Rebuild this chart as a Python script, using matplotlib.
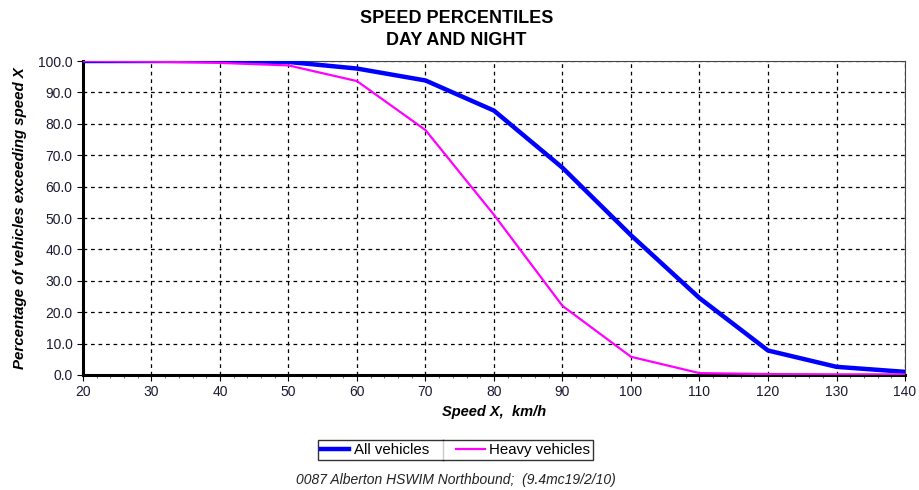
import matplotlib
matplotlib.use("Agg")
import matplotlib.pyplot as plt
from matplotlib.ticker import MultipleLocator
from matplotlib.lines import Line2D

speeds = [20, 30, 40, 50, 60, 70, 80, 90, 100, 110, 120, 130, 140]
all_vehicles = [100.0, 100.0, 100.0, 99.7, 97.6, 93.8, 84.2, 66.0, 44.5, 24.5, 7.8, 2.6, 1.0]
heavy_vehicles = [100.0, 99.8, 99.4, 98.6, 93.6, 78.0, 51.0, 22.0, 5.8, 0.6, 0.3, 0.2, 0.2]

x_ticks = list(range(20, 141, 10))
y_ticks = [i * 10 for i in range(11)]

plt.rcParams['font.family'] = ['Liberation Sans', 'DejaVu Sans']

fig = plt.figure(figsize=(9.2, 4.9), dpi=100)
ax = fig.add_axes([0.0902, 0.2347, 0.8935, 0.6408])

ax.plot(speeds, all_vehicles, color='#0000ff', lw=3.2, label='All vehicles', zorder=3, solid_joinstyle='round')
ax.plot(speeds, heavy_vehicles, color='#ff00ff', lw=1.6, label='Heavy vehicles', zorder=3)

ax.set_xlim(20, 140)
ax.set_ylim(0, 100)
ax.set_xticks(x_ticks)
ax.set_yticks(y_ticks)
ax.set_yticklabels([f"{v:.1f}" for v in y_ticks])
ax.xaxis.set_minor_locator(MultipleLocator(2))
ax.tick_params(axis='both', labelsize=10, colors='black', labelcolor='#1a1a33')
ax.tick_params(axis='x', which='major', length=4, direction='out')
ax.tick_params(axis='x', which='minor', length=2.5, direction='out', color='#555555')
ax.tick_params(axis='y', length=4)

ax.grid(True, which='major', color='black', linestyle=(0, (3, 3)), lw=0.9)

ax.spines['left'].set_linewidth(2.2)
ax.spines['bottom'].set_linewidth(2.2)
ax.spines['top'].set_linewidth(0.8)
ax.spines['right'].set_linewidth(0.8)
ax.spines['top'].set_color('#444444')
ax.spines['right'].set_color('#444444')

ax.set_xlabel('Speed X,  km/h', fontsize=10.5, fontweight='bold', style='italic', labelpad=4)
ax.set_ylabel('Percentage of vehicles exceeding speed X', fontsize=10.8, fontweight='bold', style='italic', labelpad=8)

fig.text(0.496, 0.963, 'SPEED PERCENTILES', ha='center', va='center', fontsize=13, fontweight='bold')
fig.text(0.496, 0.918, 'DAY AND NIGHT', ha='center', va='center', fontsize=13, fontweight='bold')

leg = fig.legend(loc='center', bbox_to_anchor=(0.495, 0.081), ncol=2, frameon=True, fancybox=False,
                 edgecolor='black', fontsize=10.8, handlelength=1.9, handletextpad=0.3,
                 columnspacing=1.8, borderpad=0.2, borderaxespad=0)
leg.get_frame().set_linewidth(1.0)

# vertical separator between the two legend entries
fig.canvas.draw()
renderer = fig.canvas.get_renderer()
lb = leg.get_window_extent(renderer)
t1 = leg.get_texts()[0].get_window_extent(renderer)
h2 = leg.get_lines()[1].get_window_extent(renderer)
sep_x = (t1.x1 + h2.x0) / 2 / fig.bbox.width
fig.add_artist(Line2D([sep_x, sep_x], [lb.y0 / fig.bbox.height, lb.y1 / fig.bbox.height],
                      transform=fig.transFigure, color='black', lw=1.0))

fig.text(0.495, 0.02, '0087 Alberton HSWIM Northbound;  (9.4mc19/2/10)', ha='center', va='center',
         fontsize=10, style='italic', color='#222222')

fig.savefig('out.png', dpi=100)
